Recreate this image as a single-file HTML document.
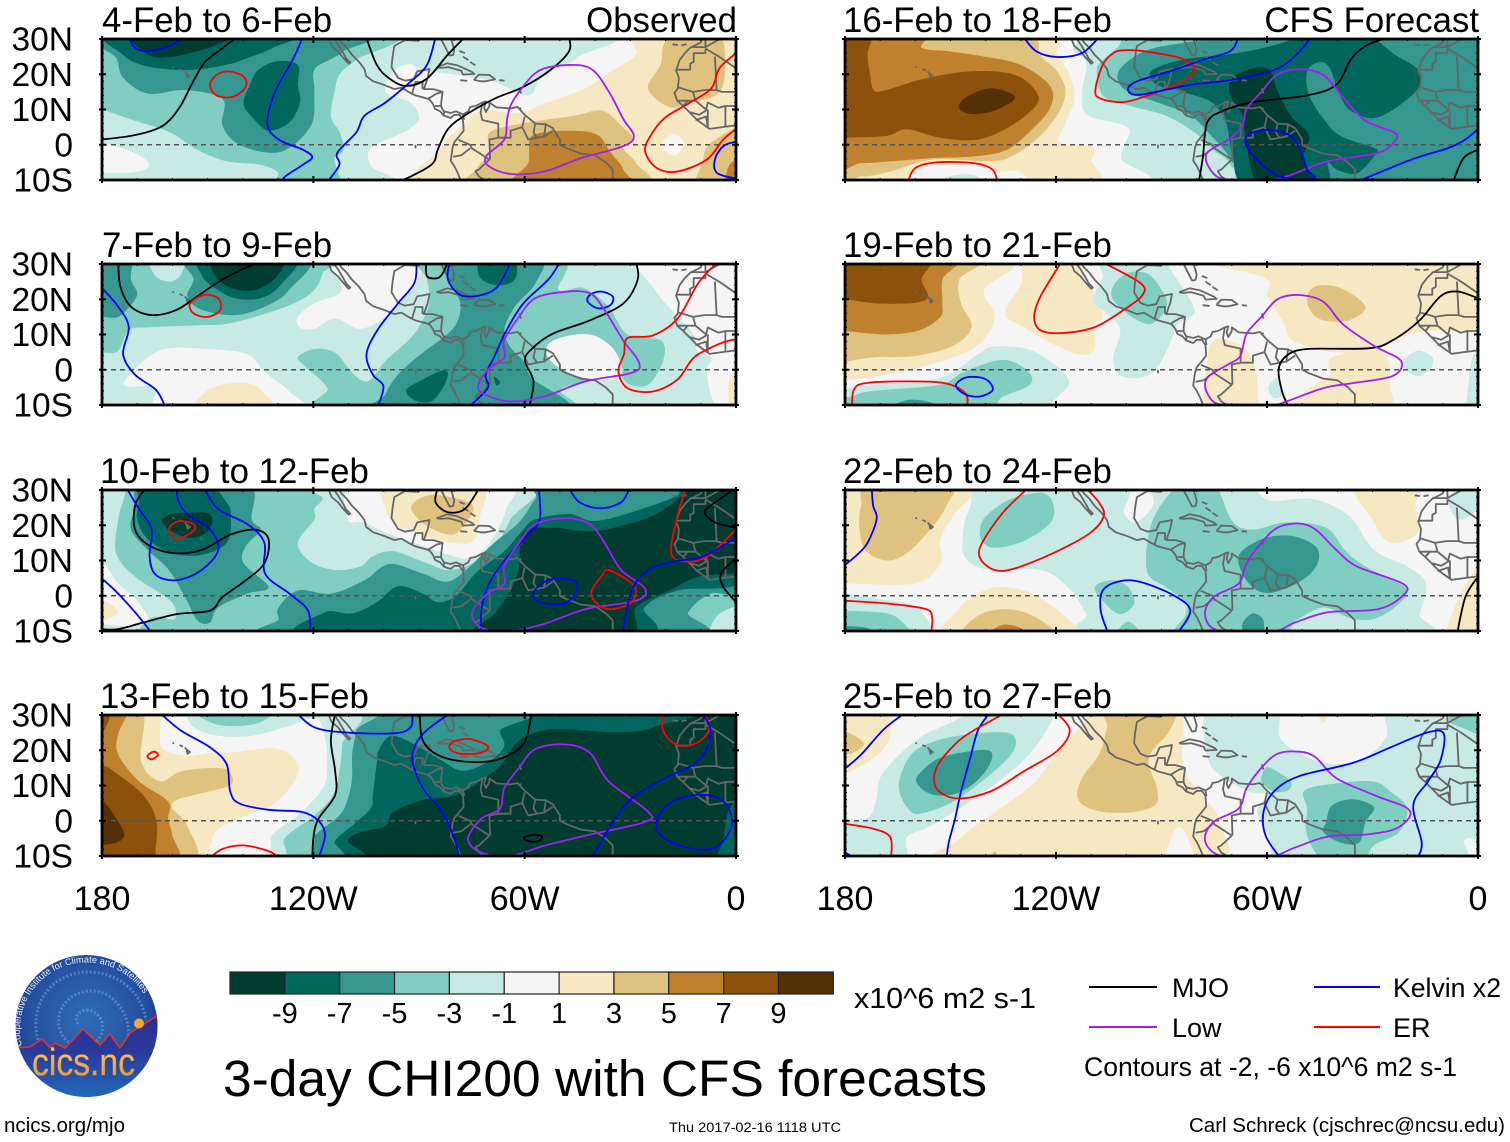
<!DOCTYPE html>
<html lang="en">
<head>
<meta charset="utf-8">
<title>3-day CHI200 with CFS forecasts</title>
<style>
html,body{margin:0;padding:0;background:#fff;width:1510px;height:1142px;overflow:hidden}
svg{display:block}
text{font-family:"Liberation Sans",sans-serif;fill:#000}
</style>
</head>
<body>
<svg id="chart" xmlns="http://www.w3.org/2000/svg" width="1510" height="1142" viewBox="0 0 1510 1142">
<defs>
<radialGradient id="logoSky" cx="50%" cy="45%" r="60%"><stop offset="0%" stop-color="#2f6cb6"/><stop offset="70%" stop-color="#24509f"/><stop offset="100%" stop-color="#24307f"/></radialGradient>
<linearGradient id="logoGround" x1="0" y1="0" x2="0" y2="1"><stop offset="0%" stop-color="#2c2c92"/><stop offset="45%" stop-color="#2a3a9c"/><stop offset="100%" stop-color="#1f6cba"/></linearGradient>
<linearGradient id="logoGold" x1="0" y1="0" x2="0" y2="1"><stop offset="0%" stop-color="#f6d488"/><stop offset="100%" stop-color="#dd9038"/></linearGradient>
<clipPath id="logoClip"><circle cx="86.5" cy="1026" r="71"/></clipPath>
<path id="logoArc" d="M22 1046 A66 66 0 1 1 152 1013"/>
</defs>
<g id="panels"></g>

<g id="xlabels" font-size="34" text-anchor="middle"></g>

<g id="colorbar"></g>
<text x="854" y="1008" font-size="29" textLength="182" lengthAdjust="spacingAndGlyphs">x10^6 m2 s-1</text>

<text x="223" y="1096" font-size="51" textLength="764" lengthAdjust="spacingAndGlyphs">3-day CHI200 with CFS forecasts</text>

<g>
<line x1="1089" y1="987" x2="1157" y2="987" stroke="#000" stroke-width="2"/>
<text x="1172" y="997" font-size="27">MJO</text>
<line x1="1314" y1="987" x2="1380" y2="987" stroke="#0000ff" stroke-width="2"/>
<text x="1393" y="997" font-size="27" textLength="108" lengthAdjust="spacingAndGlyphs">Kelvin x2</text>
<line x1="1089" y1="1027" x2="1157" y2="1027" stroke="#a020f0" stroke-width="2"/>
<text x="1172" y="1037" font-size="27">Low</text>
<line x1="1314" y1="1027" x2="1380" y2="1027" stroke="#ff0000" stroke-width="2"/>
<text x="1393" y="1037" font-size="27">ER</text>
<text x="1084" y="1076" font-size="27" textLength="373" lengthAdjust="spacingAndGlyphs">Contours at -2, -6 x10^6 m2 s-1</text>
</g>

<g>
<circle cx="86.5" cy="1026" r="71" fill="url(#logoSky)"/>
<g clip-path="url(#logoClip)" fill="none" stroke="#8fb0e0" stroke-opacity=".45" stroke-width="3" stroke-dasharray="2 2">
<path d="M78 1024 C72 1015 84 1006 94 1012 C108 1020 104 1042 88 1046 C68 1050 54 1032 60 1012 C68 990 98 984 114 1000 C132 1018 132 1040 122 1056"/>
<path d="M38 1040 C28 1002 54 972 88 972 C120 972 142 994 146 1020"/>
</g>
<path clip-path="url(#logoClip)" d="M10 1048 L30 1047 L42 1039 L50 1048 L55 1043 L65 1048 L83 1029 L100 1045 L110 1034 L120 1048 L130 1033 L160 1014 L160 1100 L10 1100 Z" fill="url(#logoGround)"/>
<path clip-path="url(#logoClip)" d="M10 1048 L30 1047 L42 1039 L50 1048 L55 1043 L65 1048 L83 1029 L100 1045 L110 1034 L120 1048 L130 1033 L160 1014" fill="none" stroke="#e0352b" stroke-width="1.6"/>
<circle cx="139" cy="1023.5" r="5" fill="#eeaa33"/>
<text font-size="9.2" style="fill:#e8eefa"><textPath href="#logoArc">Cooperative Institute for Climate and Satellites</textPath></text>
<text x="32" y="1075" font-size="38" textLength="103" lengthAdjust="spacingAndGlyphs" stroke="#dd9038" stroke-width=".5" style="fill:url(#logoGold)">cics.nc</text>
</g>

<text x="4" y="1132" font-size="20" textLength="121" lengthAdjust="spacingAndGlyphs">ncics.org/mjo</text>
<text x="669" y="1132" font-size="13.5" textLength="172" lengthAdjust="spacingAndGlyphs">Thu 2017-02-16 1118 UTC</text>
<text x="1189" y="1132" font-size="20" textLength="316" lengthAdjust="spacingAndGlyphs">Carl Schreck (cjschrec@ncsu.edu)</text>
</svg>

<script>
// ---------- chart values (longitudes in degrees west, latitudes in degrees north) ----------
const colorEdges = [-9,-7,-5,-3,-1,1,3,5,7,9];
const palette = ['#003c30','#01665e','#35978f','#80cdc1','#c7eae5','#f5f5f5','#f6e8c3','#dfc27d','#bf812d','#8c510a','#543005'];
const lonTickLabels = ['180','120W','60W','0'];
const lonTickValues = [180,120,60,0];
const latTickLabels = ['30N','20N','10N','0','10S'];
const latTickValues = [30,20,10,0,-10];
const panelTitles = ['4-Feb to 6-Feb','7-Feb to 9-Feb','10-Feb to 12-Feb','13-Feb to 15-Feb','16-Feb to 18-Feb','19-Feb to 21-Feb','22-Feb to 24-Feb','25-Feb to 27-Feb'];
const panelBackgrounds = [0,-2,-4,-10,-6,0,0,0];

const panel1Bands = [
[-2,[184,32,44,32,44.5,25,54.5,20,59,14,69,18,80.5,20,89,21,92.5,23,97,21,99.5,15,92.5,12,90,7.5,93.6,4,103.7,-1,103.7,-6,101,-12,184,-12]],
[0,[184,0,174,-1,167,-4.7,167.7,-7,174,-8,184,-7]],
[-4,[184,32,99,32,108,24,112.5,20,114,15,115,8,112.5,3.5,111.4,-1.5,114,-4,112.5,-9,111,-12,130,-12,130,-8,135,-5.7,144.5,-4.7,153,-1.4,160.6,3.5,170.6,6.8,180,10,184,11]],
[-6,[184,32,106.7,32,111.4,26.5,114.4,24.6,119.7,21.3,119.7,15,120.3,6.3,125.6,0,131.5,-2.3,141,0,145.8,5.4,145.8,13,156.4,15.5,167,14.5,174,19,176,24.6,180,27.5]],
[-8,[176.5,32,174,25.5,167,22.2,155,21.2,144.6,22.7,138.6,24.6,131.5,27.5,125.6,32]],
[-8,[135.7,21.2,130.4,23.7,124.4,22.7,124.4,17,123.8,12,126.8,6.3,132.7,4,136.9,7.3,139.8,11.6,138,17]],
[-10,[171,32,167,25.6,161,24.8,153,26.5,147,28.5,142,32]],
[2,[28,32,28.4,25.6,35.5,20.8,42.7,16,54.5,11.6,61.6,9,72.3,9.7,78,5.4,84,-1.4,86,-12,-4,-12,-4,32]],
[0,[20.8,0.6,17.8,3,14.8,0.6,16.6,-2.8,19.6,-2.3]],
[4,[20.5,28.5,16.6,32,4.7,32,4,16,13,12,19,10.7,25,16,21.4,22.7]],
[4,[69.9,3.5,60.4,6.1,46,8.2,38,9.7,32.6,5.4,29,1.5,32,-0.9,28.4,-5.2,26.7,-12,73.5,-12,73.5,-6.7,69.9,-2.3]],
[4,[-4,5,7,0.6,9.5,-5,10.7,-12,-4,-12]],
[6,[58.7,0.6,57,3,48.6,4,39.7,3,35.5,-2.3,32,-7,32,-12,62.8,-12,59,-5.2]],
[6,[2.4,-12,1.8,-5.7,-4,-3,-4,-12]]
];
const panel1Contours = [
['Kelvin',0,[172.5,30.5,170.6,27.5,167,26.5,161,28,156.4,30.5]],
['ER',1,[144,20.8,139.8,19.3,139.2,16.4,142.8,13.6,147.5,14,149.3,17,147.5,19.8]],
['MJO',0,[180,1.5,171.8,2.5,164.7,4.4,161,6.8,157.6,11.2,154.6,17,151,23.2,147,26.5,141,31]],
['Kelvin',0,[123,30.5,125.6,24.6,130.4,16,132.7,9.2,132.7,4.4,129,1,123,-1.4,120.3,-3.5,123,-5.7,128,-9,128.6,-10.5]],
['Kelvin',0,[85.3,30.5,87.7,22.7,92.4,17.9,99.5,12,105.5,8.2,107.8,3.5,113.2,-2.3,112.6,-5.7,116,-10.5]],
['MJO',0,[105,30.5,102,22.7,98.4,18.8,93.6,16.7,87.7,18.8,81.8,25.6,77,30.5]],
['MJO',0,[47.4,30.5,47.4,26.5,52.7,21.2,60.4,16.4,68.7,13,77,8.3,81.8,4.4,84.7,-1.4,86.5,-5.7,95.4,-10.5]],
['Low',1,[61.6,15,57,20.3,52,22.2,44,22.5,39.7,20.3,35.5,14,32,7.3,29,2.5,32,-0.4,44,-3.8,54.5,-7.6,64,-8.3,70,-6.2,71,-3.3,65.8,1.5,65,7.3,64,11.1]],
['ER',0,[0,26,4.7,21.7,7,16,13,12,20,7.8,24,3,25.8,-1.8,22.5,-6.6,16.6,-7.6,8.3,-4.2,3.6,1.5,0,4.4]],
['Kelvin',0,[0,0.9,3.6,-0.4,6,-4.2,5.4,-8,0,-9.6]]
];

const panel2Bands = [
[0,[27,32,23,22.7,17,15.5,12,10,11,5.4,7,3.5,8.3,-1.4,4.7,-12,-4,-12,-4,32]],
[0,[90.7,32,90.7,24.6,94.8,19.8,99.5,15,106.7,11.6,113.8,14.5,119.7,11.6,123.8,12,124.4,15,119.7,18.8,112.6,21.7,112.6,25.6,116,32]],
[0,[173,-2.3,167,3.5,161,6.1,149.3,5.8,138.6,4.4,134,-0.4,126.8,-6.2,123.8,-12,162.4,-12,164.7,-5.2,173,-4.7]],
[2,[153,-12,150.5,-6.2,143.4,-3.8,136.3,-4.7,131.5,-12]],
[2,[-4,0.2,1.8,-2.3,1.2,-12,-4,-12]],
[-4,[184,32,117,32,117.3,27.5,119.7,22.7,125.6,18.8,135,15.5,144.6,13,153,12.6,167,12,172.4,11.2,175.4,5.4,180,4.9,184,5]],
[-2,[166.5,32,164.7,26.5,160.6,25,157.6,27,157,32]],
[-4,[88.3,32,50.4,32,50.4,22.7,43.3,23.2,36.2,17.9,30.8,10,21.3,8.3,20.7,2.5,24.9,-4.2,30.2,-4.2,33.8,-1.4,41.5,-3.3,49.8,-5.7,49.8,-12,116,-12,116,-5.2,122,0.6,124.4,3.5,119.7,5.9,113.8,4.9,110.2,0.6,106.7,-2.8,103.7,-2.8,99.5,2.5,91.3,10.2,87.1,18.8,87.7,25.6]],
[0,[53.3,7.3,47.4,9.7,40.3,9.7,34.4,5.4,32.6,-1.4,40.3,-2.8,48.6,-0.4,53.3,3.4]],
[-6,[184,32,172.4,32,171.8,25.6,170,21.7,171.8,18.4,175.4,15,180,15,184,15]],
[-6,[154.7,32,154,25.6,155.8,20.8,151.7,17,142,15.5,132.7,18.4,126.8,22.7,122,32]],
[-6,[80.6,32,81.8,25.6,79.4,21.7,78.2,17.9,79.4,13,83,9.2,88.9,4.9,96,-1.4,99.5,-7,100.7,-12,48.6,-12,58,-2.3,60.4,2.5,64,6.3,65.8,11.2,62.8,17.9,56.9,24.6,56.3,32]],
[-8,[151.1,32,151.5,26.5,148,23.2,142.2,20.3,135,20.3,129.2,24.1,125.6,32]],
[-8,[72.3,32,72.9,26.5,68.7,24.1,64,24.6,62.2,27.5,63.4,32]],
[-8,[93.6,-5.7,88.9,-2.8,84.1,-0.4,81.8,-0.9,83,-4.7,86.5,-9,91.3,-8.6]],
[-8,[68.7,-2,67,-3.5,68,-4.5]],
[-10,[147.5,32,148.1,27,143.4,23.2,136.3,22.7,130.4,26.5,129.2,32]]
];
const panel2Contours = [
['MJO',0,[175.4,30.5,174.8,23.7,171.8,17.9,165.9,15.5,158.8,17,151.7,21.7,145.8,25.6,137.5,29.6,132.7,30.5]],
['Kelvin',0,[180,23.2,175.4,17.9,172.4,12.1,174,4.4,170.6,-1.4,164.7,-5.7,162,-10.5]],
['ER',1,[151.1,21.2,147,20.3,146.4,17,149.9,15,154,16,155,18.8]],
['Kelvin',0,[90.7,30.5,91.3,24.6,96,18.8,101.9,11.1,104.9,4.4,103.1,-1.4,100.1,-4.7,101.7,-10.5]],
['MJO',0,[88,30.5,87.7,26.5,84.7,26,83.2,27.5,81.8,30.5]],
['Kelvin',0,[81.2,30.5,81.8,25.6,78.2,21.2,72.3,21.2,67.6,23.7,64,30.5]],
['Kelvin',0,[50,30.5,53.3,25.6,60.4,18.8,65.2,11.1,68.7,3.5,71.1,-1.4,70.5,-5.2,75.8,-10.5]],
['Kelvin',1,[38.5,22.2,35,20.8,35.6,18.4,39.1,17.4,42.1,19.3,41.5,21.2]],
['MJO',0,[28.4,30.5,27.9,25.6,32,18.8,41.5,14,52.1,10.2,58,5.9,59.9,2.5,57.5,-3.3,58.7,-10.5]],
['Low',1,[61.6,15,57,20.3,48.6,22.1,41.5,21.7,37.3,16.9,32,8.3,27.5,2,29.6,-0.9,42.7,-3.3,54.5,-7.6,64,-9,71.1,-7.1,73.2,-4.7,70.5,0,65.8,3.4,65.8,8.3]],
['ER',0,[5.3,30.5,10.7,24.6,16.6,14.5,23.7,9.7,30.8,9,31.8,4.4,33.4,-0.4,30.8,-5.2,23.7,-6.2,16.6,-2.8,11.9,3.5,4.8,7.3,0,8.7]]
];

const panel3Bands = [
[-2,[184,32,173.6,32,175.4,21.7,176,12.1,170.6,5.4,160.6,-1.4,159.4,-6.6,165.9,-6.2,173,-12,184,-12]],
[0,[184,9,180,9.6,175.4,3.5,170,-1.4,167,-7,173,-8.6,180,-8,184,-8]],
[2,[184,0.5,175.4,-4.7,184,-7.6]],
[-2,[117.3,32,117.3,27.5,119.7,24.6,119.7,21.7,124.4,15,120.9,9.7,113.8,7.3,106.7,8.3,103.1,11.2,97.2,12.6,87.7,9.2,80.6,7.3,69.9,12.1,64,21.7,59.3,32]],
[0,[106.7,32,110.2,21.7,105.5,20.8,99.5,17.9,91.3,15,83,12.1,75.8,10.7,69.9,15,65.2,24.6,65.8,32]],
[2,[98.4,32,99.5,24.6,96,19.8,91.3,18.8,88.9,17,80.6,15,74.7,15.5,72.9,21.7,72.9,32]],
[4,[91.8,26,88.9,28,84.1,28.5,74.7,25.6,78.2,18.8,81.8,17.4,87.7,19.8,91.8,23.7]],
[-6,[167.7,32,170.6,24.6,171.8,18.8,167,13,161,7.3,156.4,-0.4,152.9,-7,149.3,-7.6,147,-3.3,138.7,0.6,132.7,2.5,139.8,9.2,139.2,14,135,18.8,137.5,21.7,139.2,32]],
[-8,[168.3,32,169.5,26.5,170,21.7,167,16,160,12.1,151.7,11.6,144.6,15,143.4,21.7,144.6,26.5,151.1,32]],
[-10,[163,21.7,160,23.2,150.5,23.5,148.7,21.2,150.5,17.9,155.2,16.4,161.2,18.8]],
[-6,[129.8,-3.3,124.4,1.5,115,0.6,105.5,4.4,98.4,9,88.9,6.3,80.6,4.4,68.7,15,61.6,20.8,56.9,27.5,52.1,32,-4,32,-4,2.5,7.1,0.6,13.6,-4.7,16,-12,128,-12,129.8,-6.6]],
[-2,[-4,-3,4.8,-5.2,7.1,-12,-4,-12]],
[-8,[119.7,-12,116.7,-4.7,109,-5,101.9,-1.8,96,2.7,88.9,0.6,84.7,-1.8,79.4,0,73.5,6.8,65.8,12.6,60.4,18.8,56.9,21.7,47.4,23.2,40.3,21.2,29.6,23.7,16.6,28.5,16.6,32,-4,32,-4,5.4,16.6,1.5,26,-3.3,29.6,-12]],
[-10,[73.5,-12,68.1,-4.7,64,1.5,61.6,8.3,60.4,17.9,52.1,19.3,43.9,18.4,36.8,18.8,23.7,22.7,15.4,28.5,13,32,-4,32,-4,9.2,10.7,5.4,19,1.5,28.4,-3.3,32,-12]]
];
const panel3Contours = [
['MJO',0,[167.7,30.5,170.6,25.6,170.6,18.8,167,14.5,160,12.1,151.7,13,143.4,17.4,136.3,18.7,132.7,16,133.9,9.2,139.8,3.9,145.8,-0.4,149.3,-4.2,158.8,-5.2,168.3,-7.6,175.4,-9.5,180,-9.5]],
['Kelvin',0,[173,30.5,169.5,24.6,165.9,18.8,166.5,11.1,164.7,5.9,158.8,4.4,151.7,7.3,147,13,149.3,18.8,155.2,22.7,158.2,26.5,158.8,30.5]],
['Kelvin',0,[151.1,30.5,147,24.6,138.7,20.3,133.9,15,133.7,6.3,126.8,0.6,121.5,-4.2,120.9,-10.5]],
['ER',1,[157.6,21.2,154,20.3,154,18.4,158.8,16.1,160.9,18.4,160,20.3]],
['Kelvin',0,[180,4.9,175.4,0.6,170.6,-4.7,165.9,-10.5]],
['MJO',0,[84.7,30.5,85.3,26.5,81.8,23.7,77,24.6,72.9,30.5]],
['Kelvin',0,[56,30.5,55.7,21.7,59.3,17,66.4,9.2,70.5,2.5,72.3,-4.2,72.3,-10.5]],
['Kelvin',0,[47.4,30.5,44.4,26.5,38.5,24.8,32.6,26.5,30.2,30.5]],
['Low',1,[61.6,15,57,20.3,48.6,22,41.5,20.3,37.3,15,32.6,7.3,25.8,2,28.4,-1.4,42.7,-3.8,54.5,-8,64,-10,72.3,-9,74.9,-4.7,70.5,0.6,65.8,3.4,65.8,8.3]],
['Kelvin',1,[51,4.9,45.6,4,45.6,0.6,49.2,-2.3,55.7,-1.8,57.5,0.6,55.1,3.5]],
['ER',1,[36.2,7.3,30.8,4.4,28.4,1.5,30.2,-2.3,36.2,-3.8,40.3,-1.4,40.9,1.5,37.9,5.9]],
['ER',0,[14.2,30.5,16.6,22.7,18.4,12.1,14.2,9.7,8.3,11.1,0,18.8]],
['Kelvin',0,[32.2,-10.5,29.6,1.5,24.9,7.3,17.8,9.7,9.5,11.1,0,16.4]],
['MJO',0,[0,19.3,5.9,20.8,8.9,23.7,5.9,26.5,0,30.5]],
['MJO',0,[0,-1.8,3.6,2.5,4.2,6.3,0,10.7]]
];

const panel4Bands = [
[-8,[184,32,23.1,32,23.7,26.5,34.4,25.1,52.1,26,61.6,22.7,65.8,17,69.9,13.1,79.4,7.3,88.9,5.9,97.2,2.5,99.5,-1.4,106.7,-3.3,110.2,-5.7,110.2,-12,184,-12]],
[-8,[5.3,-12,3.6,-5.2,1.8,3.5,-4,8,-4,-12]],
[-6,[184,32,65.2,32,67,25.6,65.8,21.2,69.9,17,77.6,14.2,84.1,17.4,91.3,21.7,97.8,24.1,101.3,20.3,101.9,17,103.1,7.3,103.7,3.5,108.4,-0.9,113.8,-5.7,116.7,-12,184,-12]],
[-4,[184,32,106.7,32,107.8,25.6,109,18.8,109,12.1,110.2,6.3,112.6,1.5,119.7,-4.2,126.8,-12,184,-12]],
[-2,[184,32,111.4,32,111.8,21.7,112.6,14,114.4,7.3,119.7,1.5,128,-4.7,132.7,-12,184,-12]],
[0,[184,32,160,32,154,26.5,147,24.1,137.5,24.1,128,26.5,119.1,29,116.5,22.7,116.1,15,117.3,9.2,124.4,1.5,131.5,-3.8,137.5,-12,184,-12]],
[-4,[153.5,32,148.1,27.5,139.8,27,133.9,28.5,132.1,32]],
[2,[184,32,164.7,32,163.5,26,163,20.8,156.4,18.4,149.3,19.3,143.4,19.3,131.5,20.6,125.6,17.9,124.4,13,130.4,5.4,138.7,1.5,147,-2.3,149.3,-7,151.7,-12,184,-12]],
[4,[184,32,168.9,32,168.9,17,163.5,11.2,157.6,14,148.1,15,144,14,143.4,10.2,151.7,7.8,158.8,5.9,160,3.5,155.8,-1.4,154.7,-12,184,-12]],
[6,[184,32,173,32,175.4,24.6,175.4,18.8,169.5,11.2,161.2,5.4,161.2,0.6,160,-4.2,159.4,-12,184,-12]],
[8,[184,32,177.8,32,179.5,25.6,184,25]],
[8,[184,14,179.5,15.5,175.4,13.1,168.3,7.3,164.7,0.6,164.7,-7,167,-12,184,-12]],
[10,[184,6,179.5,5.4,174.2,-2.3,174.2,-5.2,177.8,-6.6,184,-6]]
];
const panel4Contours = [
['Kelvin',0,[163.5,30.5,157.6,25.6,149.3,20.8,144.6,16,143.6,8.3,141,4.9,132.7,3.1,123.3,2.5,118.5,0,116.7,-4.2,118.5,-10.5]],
['ER',1,[165.3,19.6,164.1,18.7,165.9,17.4,167.1,18.4]],
['Kelvin',0,[124.7,30.5,119.7,26.5,111.4,25.1,97.2,24.8,92.4,26.5,91.9,30.5]],
['MJO',0,[113.8,30.5,115,22.7,113.8,14,113.8,7.3,118.5,0.6,119.9,-4.2,120.3,-10.5]],
['MJO',0,[89.8,30.5,88.9,22.7,84.1,18.4,75.8,16.7,67.5,17.4,60.4,21.7,58,30.5]],
['Kelvin',0,[81.2,30.5,88.9,24.6,91.9,17.9,88.9,9.2,84.1,3.4,80.6,-3.3,78.5,-10.5]],
['ER',1,[80.6,22.2,75.8,23.2,70.5,21.2,72.3,19.3,78.2,19,81.2,20.3]],
['Low',1,[61.6,15,57,20.3,48.6,21.7,41.5,19.3,36.2,11.2,24.9,2.5,26,-0.4,42.7,-4.2,54.5,-7.1,64,-10,72.3,-9,76.1,-5.2,72.3,0.6,67,3.4,65.8,9.2]],
['MJO',1,[57.5,-4,55.1,-4.4,56.3,-5.9,59.3,-5.7,60.1,-4.7]],
['ER',0,[20.7,30.5,20.7,25.6,17.2,21.7,11.9,21.7,7.7,25.6,8.9,30.5]],
['Kelvin',0,[9.5,30.5,7.1,24.6,10.7,17,20.1,12.1,29.6,6.3,35.6,-1.4,40.9,-10.5]],
['Kelvin',1,[8.3,7.3,3,4.9,1.2,-1.4,5.9,-7.6,14.2,-7.6,21.3,-4.2,22.5,0.1,19,4.9,14.2,6.8]],
['ER',0,[149.3,-10.5,145.8,-8,139.8,-7,132.7,-8.6,129.8,-10.5]]
];

const panel5Bands = [
[-4,[184,32,64,32,81.8,29.2,93.6,27,100.7,22.7,102.5,18.8,99.5,15,90,11.6,81.8,8.3,75.8,2.5,70.5,-4.2,70.5,-12,184,-12]],
[-2,[184,32,106.7,32,108.4,21.7,106.7,14,99.5,11.2,88.9,8.3,80.6,3.5,75.3,-1.4,70.5,-5.7,74,-12,184,-12]],
[0,[184,32,119.7,32,115,26.5,111.4,23.2,112.6,14,110.8,8.3,99.5,4.9,100.7,-0.4,101.3,-4.2,97.8,-12,184,-12]],
[2,[184,32,124.4,32,119.7,25.6,116.1,19.8,114.7,13,117.3,6.3,119.1,0.6,109.6,-0.6,110,-4.2,113.2,-12,184,-12]],
[0,[161.8,-12,158.8,-7,150.5,-5.7,141,-6.2,136.3,-7.6,130.4,-7.6,129.8,-12]],
[-2,[154,-12,150.5,-9,143.4,-8.6,139.8,-12]],
[4,[184,32,131.5,32,124.4,25.1,119.7,20.8,117.3,15,119.7,8.3,125.6,1.5,132.7,-3.3,138.7,-4.7,155.2,-4.2,167.1,-7.6,175.4,-9,184,-8]],
[6,[184,32,158.2,32,158.2,27.5,150.5,26.5,141,25.1,131.5,23.2,124.4,19.3,120.9,15,122.1,9.7,126.8,4.4,133.9,-1.4,143.4,-3.3,155.2,-3.8,167.1,-4.7,175.4,-5.2,184,-4.5]],
[8,[184,32,173,32,173.6,25.6,173,20.8,171.8,15.5,168.3,15.5,158.8,18.4,147,20.6,137.5,20.8,130.4,19.3,125.6,15,125.6,11.2,132.7,5.4,142.2,1.5,152.9,2,162.4,4.4,168.3,2.5,180,2,184,2]],
[10,[147.5,11.6,144.6,14,138.7,16,132.7,14.5,132.1,12.6,137.5,9.7,143.4,8.7,147,9.7]],
[-8,[93,20.8,84.1,24.1,68.7,26,56.9,28.5,46.2,32,33.2,32,23.7,25.6,16.6,20.8,17.8,15,28.4,7.8,36.2,9.7,39.7,15,42.1,21.7,45,23.5,48.6,20.8,48,14,43.9,7.3,39.1,2.5,29.6,-0.9,29,-2.5,34.4,-8.1,40.3,-7,42.7,-5.2,43.9,-12,65.8,-12,69.9,-2.3,71.7,6.3,75.8,12.1,84.1,15,91.3,17]],
[-10,[70.5,14,69.9,18.8,64,21.7,59.3,21.2,56.9,15,53.3,8.3,48,2.5,49.8,-4.2,46.2,-12,61.6,-12,65.8,-0.4,67,8.3]]
];
const panel5Contours = [
['Kelvin',0,[129.2,30.5,125.6,26.5,119.7,24.9,112.6,26,107.8,30.5]],
['ER',1,[100.7,26.8,94.8,26.5,84.1,24.4,80.6,21.2,84.1,17.9,92.4,14.5,100.7,12.1,107.3,13.1,108.8,15.5,106.7,22.7,103.7,26]],
['Kelvin',0,[68.1,30.5,70.5,26.5,78.2,24.1,87.7,20.8,97.2,17.9,99.5,15.5,96,14.2,81.8,17,69.9,18.4,58,21.2,52.1,25.1,47.4,30.5]],
['MJO',0,[25.5,30.5,32,28,36.2,24.1,40.3,17,48.6,14,64,12.1,72.3,9.7,77,6.3,78.2,-3.3,79.4,-10.5]],
['Low',1,[61.6,15,57,20,51,21.4,44,19.8,38,13,32,6.8,23.7,3.4,23.7,1,28.4,-2.3,42.7,-4.7,54.5,-9,61.6,-10.2,72.3,-9.8,76.4,-6.6,77,-2.3,71,1.5,67,5.4,65.8,10.2]],
['Kelvin',1,[65.8,-0.4,65.2,3,59.3,4.2,53.3,2.5,50.4,-1.8,48.6,-7,46.5,-9.5,54.5,-9.5,60.4,-6.6]],
['Kelvin',0,[34.4,-10.5,18.9,-4.2,8.3,-0.9,3.6,1.5,0,4.4]],
['MJO',0,[7.1,-10.5,4.1,-3.8,0,-1.4]],
['ER',0,[162.1,-10.5,160,-6.6,154,-5,143.4,-5.2,138.1,-7,136.6,-10.5]]
];

const panel6Bands = [
[2,[184,32,132.7,32,140.4,22.7,137.5,16,138.7,11.2,144.6,5.4,158.8,0.6,170.6,-1.8,180,-3,184,-3]],
[4,[184,32,142.2,32,147.5,25.6,147,18.8,144,12.1,149.3,6.8,160,3.9,171.8,3.5,180,2.3,184,2]],
[6,[184,32,149.3,32,152.3,25.6,152.3,18.8,152.9,15,158.8,11.2,168.3,10,180,11,184,11]],
[8,[184,32,157,32,158.2,25.6,156.4,20.8,160,19,170.6,18.8,180,20,184,20.5]],
[2,[128.6,32,129.8,24.6,134.5,16,129.2,12.1,120.9,7.3,112.6,4.2,109,6.3,109,13.1,106.7,15,109,21.7,112.6,26.5,115,32]],
[2,[77,32,60.4,26,59.9,20.8,55.1,13.1,53.3,8.7,47.4,6.3,40.3,4.9,29.6,5.9,16.6,10.7,-4,13,-4,32]],
[4,[48.6,20.3,46.2,23.7,39.1,23.2,32,17.9,36.8,14,43.9,14,47.4,16.4]],
[2,[78.2,-7,77,2.5,75.8,7.8,72.3,8.7,66.4,6.3,63.4,0.6,62.8,-4.2,64,-12,78.2,-12]],
[2,[49.8,-7,45,-3.3,42.1,-1.4,41.5,3.5,27.3,5.4,24.9,-5.2,26.1,-12,51,-12]],
[-2,[3,-7,1.2,4.4,-4,4.4,-4,-12,3,-12]],
[-2,[109,21.7,106.7,26.5,106.7,32,87.7,32,87.7,29,80.6,17,85.3,13,87.7,7.3,91.3,0.6,96,-2.3,101.9,-1.4,103.7,3.5,101.9,12.1,109,18.8]],
[-4,[103.7,23.7,99.5,27.5,93.6,27,88.9,20.8,88.9,17,93,13,98.4,15,103.7,19.8]],
[-2,[184,-12,184,-6.6,170.6,-4.2,152.9,-2.3,142.2,4.4,137.5,6.6,126.8,5.4,117.3,-1.4,118,-6.2,131.5,-12]],
[-4,[184,-12,176.6,-7,168.3,-5.7,152.9,-4.2,145.8,-0.4,135,2.8,128,-0.4,127.4,-4.2,135,-7.6,143.4,-12]],
[-6,[168.3,-12,162.4,-8.6,154.9,-9.5,153.5,-12]],
[-2,[21.3,2.5,17.2,5.4,13,3.5,13.6,0.1,17.2,-1.8,20.7,0.1]],
[-2,[59.3,-4.2,56.9,-2.3,55.7,-7,58,-8,59.5,-6.2]]
];
const panel6Contours = [
['ER',0,[118.5,30.5,124.4,20.8,126.2,15,124.4,11.2,118.5,10.4,109,12.1,100.7,17,95.4,21.2,96,24.6,106.7,30.5]],
['MJO',0,[0,20.3,5.9,22.2,10.7,20.8,16.6,14,23.7,8.7,30.8,6.1,48.6,5.9,54.5,3.9,56.7,0,55.7,-6.2,53.9,-10.5]],
['Low',1,[61.6,15,57,20,51,21.2,44,19.3,38.5,13,29.6,6.8,21.9,2.5,24.3,-1.8,35.6,-3.8,43.9,-5.2,54.5,-9,59.3,-10.2,72.9,-10,77,-6.6,77,-2.3,71.1,1.5,67.6,3.9,65.8,10.2]],
['ER',0,[178,-10.5,177.5,-5.7,174.2,-3.8,162.4,-3.3,151.7,-3.8,145.8,-6.6,145.2,-10.5]],
['Kelvin',1,[144,-2,139.8,-2.8,138,-5.7,141.6,-7.6,145.8,-7,148.4,-4.7,147,-2.8]]
];

const panel7Bands = [
[2,[184,32,144.6,32,149.3,22.7,152.9,16,152.9,9.2,160,3.5,180,3.5,184,3.5]],
[4,[175.4,25.6,173,32,150.3,32,151.1,25.6,155.8,18.8,162.4,12.1,168.3,10,174.2,13,176,19.8]],
[-2,[138.7,32,101.9,32,100.7,23.7,97.2,20.8,92.4,25.6,90.7,32,67.6,32,59.3,27,47.4,27.5,36.7,22.7,29.6,13,20.1,8.3,14.8,3.5,16.6,-5.2,19,-12,109,-12,111.4,-5.2,116.7,2.5,124.4,7.3,138.7,7.3,145.8,10.7,146.4,17.9,144.6,24.6]],
[-2,[8.3,28.5,0.6,29.4,0.6,24.1,5.9,21.7]],
[2,[35,32,29.6,20.8,24.9,15,17.2,17.9,17.8,25.6,16.6,32]],
[2,[8.3,-12,4.8,0.6,-4,12,-4,-12]],
[-4,[141.6,18.8,139.8,22.7,132.7,27.5,124.4,29.2,120.9,26.5,121.5,20.8,129.2,15.5,137.5,13.6,141,15.5]],
[-4,[84.1,32,75.3,32,69.9,21.2,64,18.8,54.5,20.8,43.2,19.3,37.9,13,32,8.3,20.7,2.5,22.5,-2.3,29.6,-6.6,36.7,-6.2,43.9,-3.3,51.6,-7,58,-12,85.3,-12,83,-5.2,83.5,-1.4,88.9,2.5,94.2,7.3,92.4,21.7]],
[-6,[68.1,11.1,61.6,16,53.3,17,46.2,14,45.6,9.2,50,4.4,59.3,0.8,65.2,3.5]],
[-6,[67,-8,64,-5,61,-7,61.6,-12,65.8,-12]],
[-4,[109,2.5,104.3,4.4,99.5,2.5,97.8,-2.3,101.9,-5.2,106.7,-1.4]],
[-4,[103.1,-12,99.5,-7.3,95.4,-12]],
[-2,[184,0,167,-1.4,160,-2.8,157.6,-5.2,157,-12,184,-12]],
[-4,[184,-5,170.6,-4.7,164.7,-6.6,162.4,-12,184,-12]],
[-6,[184,-9,174.2,-9,170.6,-12,184,-12]],
[2,[151.1,-12,148.1,-4.2,142.2,0.6,135.7,2.5,126.8,0.6,116.1,-7,115,-12]],
[4,[145.8,-12,142.2,-5.7,133.9,-3.8,125.6,-6.2,120.9,-12]],
[6,[139.8,-12,135.7,-8.4,130.4,-9,128,-12]]
];
const panel7Contours = [
['Kelvin',0,[172.4,30.5,172,25.6,171,21.7,173.6,15,176.6,11.6,180,8.7]],
['ER',0,[128,30.5,135,23.7,141,15,141.6,10.7,137.5,7.3,131.5,7.8,119.7,12.6,110.2,17.9,106.4,22.7,107.8,26.5,111.4,30.5]],
['ER',0,[180,-1.4,167,-2.3,157,-3.8,155.2,-6.2,155.5,-10.5]],
['Kelvin',0,[105.2,-10.5,107.3,-4.2,106.7,1.5,101.9,4.1,96,3.9,86.5,0.1,81.8,-4.2,85.3,-10.5]],
['Low',1,[61.6,15,57,19.3,51,20.5,46.2,18.8,40.3,13,34.4,8.3,21.3,3.4,21.3,0.1,28.4,-3.8,42.7,-4.7,52,-7.6,58.6,-10.2,73.5,-10,77.6,-5.7,75.3,-0.4,68.1,3.4,65.8,9.2]],
['MJO',0,[0.4,4.9,3.6,-0.4,5.9,-10.5]]
];

const panel8Bands = [
[-2,[76.4,32,58,32,55.7,22.7,43.9,16.4,33.2,17.4,26.1,23.7,24,32,-4,32,-4,-2.3,3.6,-5.2,7.1,-12,53.3,-12,59.3,-4.2,62.8,2.5,60.4,7.3,65.2,8.3,73.5,13,77,18.8]],
[2,[46.2,32,43.9,27.7,42.1,32]],
[-4,[60.4,15,58,14.5,53.3,11.2,53.9,8.7,58,8.3,61.6,11.2]],
[-4,[49.2,8.7,39.1,10.7,29.6,11.1,24.9,8.3,20.1,3.5,22.5,-3.3,29.6,-7,33.2,-12,43.2,-12,48.6,-4.2,48.6,3.5]],
[-4,[8.3,28.5,4.8,32,-4,32,-4,23.7,4.8,26.5]],
[-6,[43.2,-0.4,41.5,4.4,35.6,6.1,29.6,3.9,32,-0.4,33.8,-6.2,39.1,-6.2,43.9,-3.3]],
[-2,[171.2,5.4,169.5,13.1,160,22.7,150.5,27.5,139.8,32,122,32,123.3,24.6,131.5,15,144.6,5.4,156.4,-1.8,162.4,-4.7,164.1,-12,184,-12,184,-1,174.2,0.4]],
[-4,[164.7,10.2,161.2,18.8,154,22.7,142.2,24.8,132.7,24.6,132.1,19.8,138.7,13.1,149.3,5.4,158.8,2,162.4,3.9]],
[-6,[159.4,12.6,154,17.4,147,19.3,139.3,20,138.4,17,142.2,11.6,148.1,7.8,154.6,7.3,158.8,9.7]],
[2,[151.1,-12,148.1,-5.7,138.7,1.5,126.8,10.2,118.5,20.8,112.6,27,107.8,32,85.9,32,84.1,17.9,82.4,12.1,78.2,7.3,72.9,-1.8,78.2,-12]],
[0,[88.9,-12,86.5,-3.3,84.1,-2.3,81.8,-7,80.6,-12]],
[4,[105.5,32,87.1,32,87.7,25.6,93.6,17.9,91.3,9.2,91.9,4.4,99.5,2.3,109,3,113.8,6.3,112.6,12.1,107.8,18.8,105.5,26.5]],
[4,[138.7,-12,137.5,-8.6,136,-12]],
[2,[184,32,168.9,32,167.1,24.6,170.6,18.8,180,13,184,12]],
[4,[184,25,180,25.4,174.8,22.2,176.6,19.8,180,18.8,184,18.8]]
];
const panel8Contours = [
['Kelvin',0,[163,30.5,168.9,26,175.4,18.8,180,14.8]],
['Kelvin',0,[138.9,30.5,142.2,25.6,144.6,17,147,8.3,148.7,0.6,150.5,-6.2,151.1,-10.5]],
['ER',0,[134.5,30.5,143.4,25.6,148.7,21.7,154,15,154,9.2,148.1,6.3,138.7,8.3,129.2,14,119.7,19.8,116.1,25.6,119.7,30.5]],
['ER',0,[180,-0.9,171.8,-2.3,167.1,-4.7,166.9,-10.5]],
['Kelvin',0,[180,-9,177.2,-10.5]],
['Low',1,[61.6,15,57,19,51,19.6,46.2,18,40.3,12.1,29.6,7.3,19.5,3,22.5,-1.8,30.8,-3.8,42.7,-4.5,52,-7.6,59.3,-10.2,72.9,-10,77.6,-5.7,75.3,-0.4,68.1,3.4,65.8,9.2]],
['Kelvin',0,[56.3,-10.5,60.4,-4.2,61,2.5,58,8.3,51,12.6,35.6,16.4,24.9,20.8,14.2,25.1,9.7,24.6,10.7,17,14.2,11.2,18.4,4.4,16,-6.2,17.2,-10.5]]
];

const coastlines = [
[115.8,30.5,114.8,28,113,26.5,111.8,25,110,23,109.5,23.3,110.7,24.5,111.5,26,113,28.5,114.5,30.5],
[113,30.5,112,29,110.5,27.5,109,25.5,107,23.5,105.5,21.5,105,19.5,103,18,100,17,97,15.8,95,16.2,93,15,91,14,88,13.2,87,12.8,86,11.5,85.5,10.2,84,9.5,83,8.3,81,7.6,80,8.5,78.5,8.5,77.5,7,77.3,4,78.5,2.5,80,0.7,80.5,-1,81,-4.5,80,-6,79,-8,78,-10.5],
[90,29.5,94,29.7,97,28,97.5,25,97.8,22,96,19,94,18.2,91.5,18.6,90.5,20.8,87,21.5,87.5,19,88.2,17,88.6,15.8,86,15.8,83.3,15,83.7,12,83.7,10.8,83,9.5,81,9,79.5,9.5,77.5,8.6,76,9.5,75.5,10.7,74,11,72,12,71,12.3,71.5,10.5,71,9.3,70,11,70,12,68,10.6,64,10.3,62,10.7,60,8.5,57,6,54,5.8,52,4.7,50,1.5,50,0,48,-1,44,-2.5,40,-3,37,-5,35,-7,35,-10.5],
[84,30.5,82.7,28,81.3,25.3,80.3,25.5,80,27,81,30.5],
[85,22,82,23.1,79,22.5,75,20.7,74.3,20.1,77.5,19.9,78,21,81.5,22,84,21.8,85,22],
[74.4,18.4,73,19.9,70,19.8,68.4,18.6,71,18,72.5,18,74.4,18.4],
[78.3,18.3,76.3,18.1],[67.2,18.3,65.7,18.2],[78.5,26.6,77,26],[77.5,25,76,24],[75.5,23.5,74,22.5],[61.5,16,61,14.5],[61.5,10,61,10.5],
[160,22,159.5,22],[158,21.5,157,21],[156.5,20.8,156,20.2,155,19.5,155.7,19,156,20],[91,0,91,-1],[18,28.5,16.5,28.3],[15.5,28.2,14,28.5],
[92,14.5,91,17.8,89,17.8,89,15.8],[87.5,13,85,14.5,83.3,15],[85.5,11,83.7,11],[83,8.5,82.8,9.5],[77.5,8.6,77.2,7],
[72,12,72.5,9,72,7,67.5,6,67.5,2,70,1.5,69.8,-4.2],[78.8,1.4,75.5,0,75,-1,70,-4.2],[80.3,-3.4,78,-3,75.5,-1],[70,-4.2,73,-7,74,-7.5,73,-9,70.5,-10.5],
[67.5,2,64,2,64,4,60.7,5,60,8],[60.7,5,59,1.5,56.5,2,54.5,2.3,52,4],[57,6,57.5,3.5,56.5,2],[54,5.8,54.5,2.3],
[9.5,30.5,10,29,13,27.5,14.5,26,16,24,17,21,16.2,19,16.5,16,17.5,14.7,16.7,12.5,15,11,13.5,9.5,11,7,7.5,4.5,4,5,0,5.5,-2,5],
[13,27.7,8.7,27.7,8.7,30.5],[17,21.3,13,21.3,13,23,12,23.5,12,26,8.7,26,8.7,27.3],[8.7,27.3,4.8,25,-1,21],[6,25,5.5,15.5,9,15.5,12.2,15,16.5,16.3],
[12.2,15,11.5,12.5,8.5,10,8,12,5,10.5,3,11,0,11],[16.7,12.5,11.5,12.5],[15,11,13.7,12.5],[13,9.2,10.5,8.5,8,10],[11.5,7,8.5,8,8,4.8],[8,10,8,4.8],[3,11,3,5.2],[0,15,4,15,5.5,15.5],[8.7,27.7,1,32]
];

const panelBandSets = [panel1Bands,panel2Bands,panel3Bands,panel4Bands,panel5Bands,panel6Bands,panel7Bands,panel8Bands];
const panelContourSets = [panel1Contours,panel2Contours,panel3Contours,panel4Contours,panel5Contours,panel6Contours,panel7Contours,panel8Contours];
const colorbarLabels = ['-9','-7','-5','-3','-1','1','3','5','7','9'];
const contourTypes = ['MJO','Kelvin','Low','ER'];
const contourColors = ['#000000','#0000ff','#a020f0','#ff0000'];

// ---------- layout and axis functions ----------
const NS = 'http://www.w3.org/2000/svg';
const columnLeft = [102, 845];
const columnWidth = [634, 633];
const rowTop = [39, 264, 490, 715];
const mapHeight = 141;
function layout(i){
  const col = i < 4 ? 0 : 1, row = i % 4;
  return {left:columnLeft[col], width:columnWidth[col], top:rowTop[row], col:col, row:row};
}
function xScale(box, lon){ return box.left + (180 - lon) / 180 * box.width; }
function yScale(box, lat){ return box.top + (30 - lat) / 40 * mapHeight; }
function bandColor(v){
  let i = 0;
  while (i < colorEdges.length && v > colorEdges[i]) i++;
  return palette[i];
}
function toPoints(box, flat){
  const pts = [];
  for (let i = 0; i < flat.length; i += 2) pts.push([xScale(box, flat[i]), yScale(box, flat[i+1])]);
  return pts;
}
function smoothPath(pts, closed){
  const n = pts.length;
  const at = i => closed ? pts[(i + n) % n] : pts[Math.max(0, Math.min(n - 1, i))];
  let d = 'M' + pts[0][0].toFixed(1) + ' ' + pts[0][1].toFixed(1);
  const segs = closed ? n : n - 1;
  for (let i = 0; i < segs; i++){
    const p0 = at(i-1), p1 = at(i), p2 = at(i+1), p3 = at(i+2);
    const c1x = p1[0] + (p2[0]-p0[0]) / 6, c1y = p1[1] + (p2[1]-p0[1]) / 6;
    const c2x = p2[0] - (p3[0]-p1[0]) / 6, c2y = p2[1] - (p3[1]-p1[1]) / 6;
    d += 'C' + c1x.toFixed(1) + ' ' + c1y.toFixed(1) + ' ' + c2x.toFixed(1) + ' ' + c2y.toFixed(1) + ' ' + p2[0].toFixed(1) + ' ' + p2[1].toFixed(1);
  }
  return closed ? d + 'Z' : d;
}
function make(tag, parent, attrs){
  const el = document.createElementNS(NS, tag);
  for (const k in attrs) el.setAttribute(k, attrs[k]);
  parent.appendChild(el);
  return el;
}

// ---------- drawing ----------
const panelsRoot = document.getElementById('panels');
const defsNode = document.querySelector('#chart defs');

panelTitles.forEach(function(title, i){
  const box = layout(i);
  const clip = make('clipPath', defsNode, {id:'clip' + i});
  make('rect', clip, {x:box.left, y:box.top, width:box.width, height:mapHeight});

  const g = make('g', panelsRoot, {});
  
  

  const body = make('g', g, {'clip-path':'url(#clip' + i + ')'});
  
  

  const bg = make('rect', body, {x:box.left, y:box.top, width:box.width, height:mapHeight, fill:bandColor(panelBackgrounds[i])});
  
  

  panelBandSets[i].forEach(function(band){
    const p = make('path', body, {d:smoothPath(toPoints(box, band[1]), true), fill:bandColor(band[0])});
    
    
  });

  coastlines.forEach(function(line){
    const pts = toPoints(box, line);
    const c = make('polyline', body, {points:pts.map(q => q[0].toFixed(1) + ',' + q[1].toFixed(1)).join(' '), fill:'none', stroke:'#666', 'stroke-width':'1.8', 'stroke-linejoin':'round'});
    
    
  });

  const eq = make('line', body, {x1:box.left, x2:box.left + box.width, y1:yScale(box, 0), y2:yScale(box, 0), stroke:'#555', 'stroke-width':'1.5', 'stroke-dasharray':'5 4'});
  
  

  panelContourSets[i].forEach(function(item){
    const color = contourColors[contourTypes.indexOf(item[0])];
    const p = make('path', body, {d:smoothPath(toPoints(box, item[2]), item[1] === 1), fill:'none', stroke:color, 'stroke-width':'1.8'});
    
    
  });

  const frame = make('rect', g, {x:box.left, y:box.top, width:box.width, height:mapHeight, fill:'none', stroke:'#000', 'stroke-width':'2.8'});
  
  

  const ticks = make('g', g, {stroke:'#000', 'stroke-width':'1.2'});
  
  
  for (let lon = 0; lon <= 180; lon += 10){
    const major = lon % 60 === 0, len = major ? 4 : 2, x = xScale(box, lon);
    make('line', ticks, {x1:x, x2:x, y1:box.top - (major ? 3 : 0), y2:box.top + len, 'stroke-width':major ? 2 : 1});
    make('line', ticks, {x1:x, x2:x, y1:box.top + mapHeight - len, y2:box.top + mapHeight + (major ? 3 : 0), 'stroke-width':major ? 2 : 1});
  }
  for (let lat = -10; lat <= 30; lat += 2){
    const major = lat % 10 === 0, len = major ? 4 : 2, y = yScale(box, lat);
    make('line', ticks, {x1:box.left - (major ? 3 : 0), x2:box.left + len, y1:y, y2:y, 'stroke-width':major ? 2 : 1});
    make('line', ticks, {x1:box.left + box.width - len, x2:box.left + box.width + (major ? 3 : 0), y1:y, y2:y, 'stroke-width':major ? 2 : 1});
  }

  const t = make('text', g, {x:box.left - (title.length > 15 ? 2 : 0), y:box.top - 7, 'font-size':'34.8'});
  
  
  t.textContent = title;

  if (box.col === 0){
    latTickValues.forEach(function(lat, k){
      const lab = make('text', g, {x:73, y:yScale(box, lat) + 11.5, 'font-size':'33.5', 'text-anchor':'end'});
      
      
      lab.textContent = latTickLabels[k];
    });
  }
  if (box.row === 0){
    const tag = make('text', g, {x:box.left + box.width + 1, y:box.top - 7, 'font-size':'34.8', 'text-anchor':'end'});
    
    
    tag.textContent = box.col === 0 ? 'Observed' : 'CFS Forecast';
  }
  if (box.row === 3){
    const xl = document.getElementById('xlabels');
    lonTickValues.forEach(function(lon, k){
      const lab = make('text', xl, {x:xScale(box, lon), y:910});
      
      
      lab.textContent = lonTickLabels[k];
    });
  }
});

const barRoot = document.getElementById('colorbar');
const barLeft = 230, barCell = 54.85, barTop = 972, barHeight = 22;
palette.forEach(function(color, i){
  const r = make('rect', barRoot, {x:barLeft + i * barCell, y:barTop, width:barCell, height:barHeight, fill:color, stroke:'#222', 'stroke-width':'1.2'});
  
  
});
colorbarLabels.forEach(function(label, i){
  const t = make('text', barRoot, {x:barLeft + (i + 1) * barCell, y:1023, 'font-size':'29', 'text-anchor':'middle'});
  
  
  t.textContent = label;
});
</script>
</body>
</html>
